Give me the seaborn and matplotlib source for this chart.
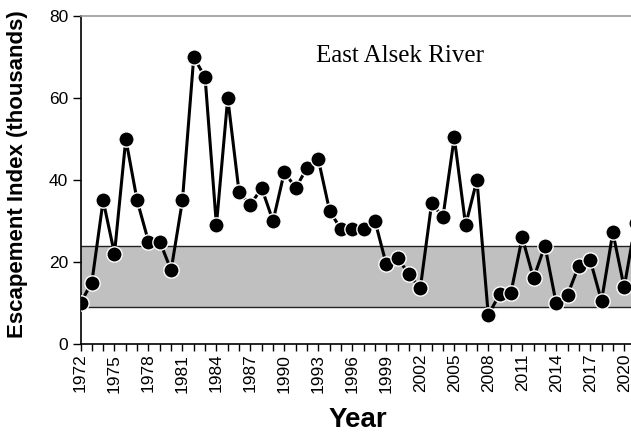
import matplotlib
matplotlib.use("Agg")
import matplotlib.pyplot as plt
import seaborn as sns
import numpy as np
import pandas as pd

years = list(range(1972, 2022))
escapement = [10, 15, 35, 22, 50, 35, 25, 25, 18, 35,
              70, 65, 29, 60, 37, 34, 38, 30, 42, 38,
              43, 45, 32.4, 28, 28, 28, 30, 19.4, 21, 17,
              13.6, 34.3, 31, 50.4, 29, 40, 7.1, 12.1, 12.5, 26,
              16, 24, 9.9, 12, 19.1, 20.5, 10.5, 27.2, 13.8, 29.6]
goal_low, goal_high = 9, 24
yticks = [0, 20, 40, 60, 80]
xtick_years = list(range(1972, 2022, 3))
title = "East Alsek River"

df = pd.DataFrame({"Year": years, "Escapement": escapement})

sns.set_style("white")
plt.rcParams['font.family'] = ['Liberation Sans', 'DejaVu Sans']
plt.rcParams['text.color'] = 'black'
plt.rcParams['axes.labelcolor'] = 'black'
plt.rcParams['xtick.color'] = 'black'
plt.rcParams['ytick.color'] = 'black'

fig = plt.figure(figsize=(6.31, 4.32), dpi=100)
W, H = 631, 432
left_px, right_px, top_px, bottom_px = 80.5, 635.5, 16, 344
ax = fig.add_axes([left_px / W, (H - bottom_px) / H, (right_px - left_px) / W, (bottom_px - top_px) / H])

ax.axhspan(goal_low, goal_high, facecolor="#c0c0c0", edgecolor="none", zorder=0)
ax.axhline(goal_low, color="#222222", lw=1.0, zorder=1)
ax.axhline(goal_high, color="#222222", lw=1.0, zorder=1)

sns.lineplot(data=df, x="Year", y="Escapement", ax=ax, color="black", lw=2.2,
             marker="o", markersize=11, markerfacecolor="black",
             markeredgecolor="white", markeredgewidth=1.0, zorder=3)

ax.set_xlim(1972, 2021)
ax.set_ylim(0, 80)
ax.set_yticks(yticks)
ax.set_xticks(xtick_years)
ax.set_xticks(years, minor=True)
ax.set_xticklabels([str(y) for y in xtick_years], rotation=90)
ax.tick_params(axis="x", which="both", direction="out", length=5, width=1, colors="black",
               bottom=True, labelsize=12.5, pad=2)
ax.tick_params(axis="y", which="major", direction="out", length=6, width=1, colors="black",
               left=True, labelsize=12.5, pad=3)

for s in ["left", "bottom"]:
    ax.spines[s].set_color("black")
    ax.spines[s].set_linewidth(1.2)
ax.spines["top"].set_color("#999999")
ax.spines["top"].set_linewidth(1.2)
ax.spines["right"].set_visible(False)

ax.set_xlabel("Year", fontsize=20, fontweight="bold", labelpad=10)
ax.set_ylabel("Escapement Index (thousands)", fontsize=16, fontweight="bold")
ax.yaxis.set_label_coords(-0.094, 0.518)

ax.text(0.576, 0.878, title, transform=ax.transAxes, ha="center", va="center",
        fontsize=18, family=["Liberation Serif", "DejaVu Serif"])

fig.savefig("out.png", dpi=100)
